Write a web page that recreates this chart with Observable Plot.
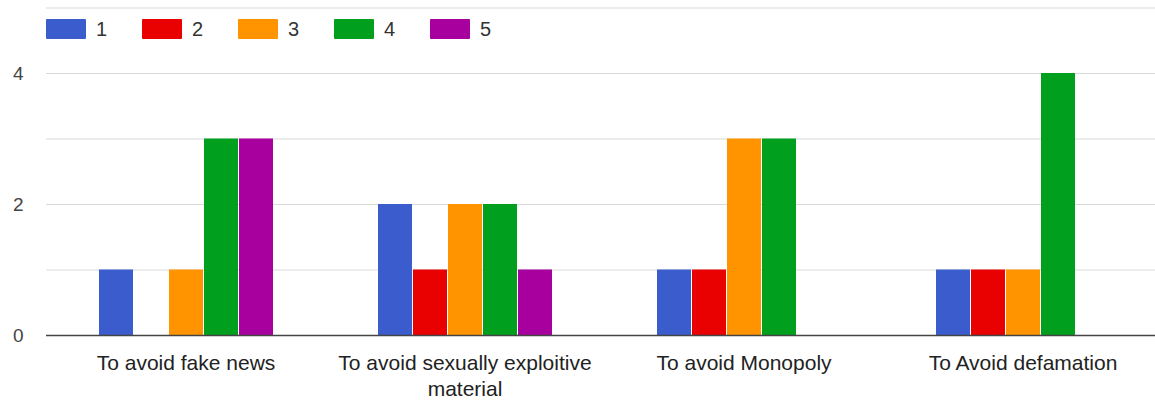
<!DOCTYPE html>
<html>
<head>
<meta charset="utf-8">
<script src="https://cdn.jsdelivr.net/npm/d3@7"></script>
<script src="https://cdn.jsdelivr.net/npm/@observablehq/plot@0.6"></script>
<style>
  html, body { margin: 0; padding: 0; background: #fff; overflow: hidden; }
  #wrap { position: relative; width: 1155px; height: 401px; overflow: hidden; font-family: "Liberation Sans", Arial, sans-serif; }
  #legend { position: absolute; left: 46px; top: 19px; display: flex; z-index: 2; }
  .item { display: flex; align-items: center; width: 96px; height: 20px; }
  .sw { width: 40px; height: 20px; border-radius: 1px; margin-right: 10px; }
  .lab { font-size: 20px; color: #333; line-height: 20px; }
  #chart { position: absolute; left: 0; top: 0; width: 1162px; }
  #chart svg { max-width: none !important; }
</style>
</head>
<body>
<div id="wrap">
  <div id="chart"></div>
  <div id="legend"></div>
</div>
<script>
// ---- data ----
const categories = [
  "To avoid fake news",
  "To avoid sexually exploitive material",
  "To avoid Monopoly",
  "To Avoid defamation"
];
const tickLabels = [
  "To avoid fake news",
  "To avoid sexually exploitive\nmaterial",
  "To avoid Monopoly",
  "To Avoid defamation"
];
const series = ["1", "2", "3", "4", "5"];
const colors = ["#3a5ccc", "#e90000", "#ff9300", "#00a01e", "#a8009f"];
const counts1 = [1, 2, 1, 1];
const counts2 = [0, 1, 1, 1];
const counts3 = [1, 2, 3, 1];
const counts4 = [3, 2, 3, 4];
const counts5 = [3, 1, 0, 0];
const yTicks = [0, 2, 4];
const gridValues = [1, 2, 3, 4, 5];

const allCounts = [counts1, counts2, counts3, counts4, counts5];
const rows = [];
categories.forEach((c, i) => {
  series.forEach((s, j) => {
    rows.push({category: c, rating: s, count: allCounts[j][i]});
  });
});

// ---- legend (HTML) ----
const legend = document.getElementById("legend");
series.forEach((s, j) => {
  const it = document.createElement("div");
  it.className = "item";
  const sw = document.createElement("div");
  sw.className = "sw";
  sw.style.background = colors[j];
  const lb = document.createElement("span");
  lb.className = "lab";
  lb.textContent = s;
  it.appendChild(sw);
  it.appendChild(lb);
  legend.appendChild(it);
});

// ---- chart ----
const chart = Plot.plot({
  width: 1162,
  height: 401,
  marginLeft: 46,
  marginRight: 0,
  marginTop: 7.5,
  marginBottom: 66,
  style: {fontFamily: "'Liberation Sans', Arial, sans-serif", fontSize: "21px", color: "#222", background: "transparent", maxWidth: "none"},
  fx: {domain: categories, padding: 0, label: null},
  x: {domain: series, paddingInner: 0.03, paddingOuter: 1.48, axis: null},
  y: {domain: [0, 5], axis: null},
  color: {domain: series, range: colors},
  marks: [
    Plot.ruleY(gridValues, {stroke: "#d9d9d9", strokeWidth: 1}),
    Plot.barY(rows, {fx: "category", x: "rating", y: "count", fill: "rating"}),
    Plot.ruleY([0], {stroke: "#444", strokeWidth: 1.5}),
    Plot.axisY({ticks: yTicks, tickFormat: d => String(d), tickSize: 0, tickPadding: 23, label: null, fontSize: 19, fill: "#444"}),
    Plot.axisFx({anchor: "bottom", tickSize: 0, tickPadding: 17, label: null, fontSize: 21, lineHeight: 1.2,
      tickFormat: d => tickLabels[categories.indexOf(d)], fill: "#222"})
  ]
});
document.getElementById("chart").appendChild(chart);
</script>
</body>
</html>
